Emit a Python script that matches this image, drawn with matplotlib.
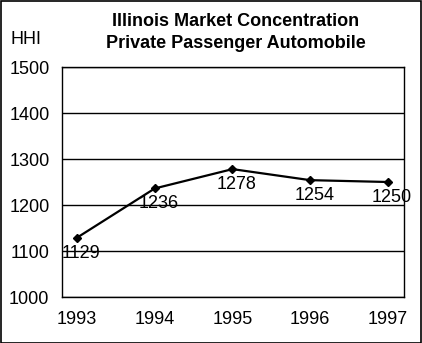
import matplotlib
matplotlib.use("Agg")
import matplotlib.pyplot as plt
from matplotlib.patches import Rectangle

years = [1993, 1994, 1995, 1996, 1997]
hhi = [1129, 1236, 1278, 1254, 1250]
yticks = [1000, 1100, 1200, 1300, 1400, 1500]

plt.rcParams['font.family'] = ['Liberation Sans', 'DejaVu Sans']

W, H = 422, 343
fig = plt.figure(figsize=(W / 100, H / 100), dpi=100)
fig.patch.set_facecolor('white')
fig.patches.append(Rectangle((0.5 / W, 0.5 / H), 1 - 1.5 / W, 1 - 1.5 / H,
                             transform=fig.transFigure, fill=False,
                             edgecolor='black', linewidth=1.2))

left, right, top, bottom = 62, 404, 67, 297
ax = fig.add_axes([left / W, 1 - bottom / H, (right - left) / W, (bottom - top) / H])

ax.plot(years, hhi, color='black', linewidth=1.6, marker='D', markersize=4.5,
        markerfacecolor='black', markeredgecolor='black', zorder=3)

for x, y in zip(years, hhi):
    ax.annotate(str(y), (x, y), xytext=(3, -5), textcoords='offset points',
                ha='center', va='top', fontsize=13, color='black', zorder=4)

ax.set_xlim(1993 - 15 / 77.5, 1997 + 16 / 77.5)
ax.set_ylim(1000, 1500)
ax.set_yticks(yticks)
ax.set_yticklabels([str(v) for v in yticks])
ax.set_xticks(years)
ax.set_xticklabels([str(v) for v in years])
ax.tick_params(length=0, labelsize=13)
ax.tick_params(axis='y', pad=9)
ax.tick_params(axis='x', pad=10)
ax.grid(axis='y', color='black', linewidth=1.0)
ax.set_axisbelow(True)
for s in ax.spines.values():
    s.set_color('black')
    s.set_linewidth(1.0)

fig.text(236 / W, 1 - 21 / H, 'Illinois Market Concentration',
         ha='center', va='center', fontsize=13, fontweight='bold')
fig.text(236 / W, 1 - 44 / H, 'Private Passenger Automobile',
         ha='center', va='center', fontsize=13, fontweight='bold')
fig.text(11 / W, 1 - 39 / H, 'HHI', ha='left', va='center', fontsize=13)

fig.savefig('out.png', dpi=100)
